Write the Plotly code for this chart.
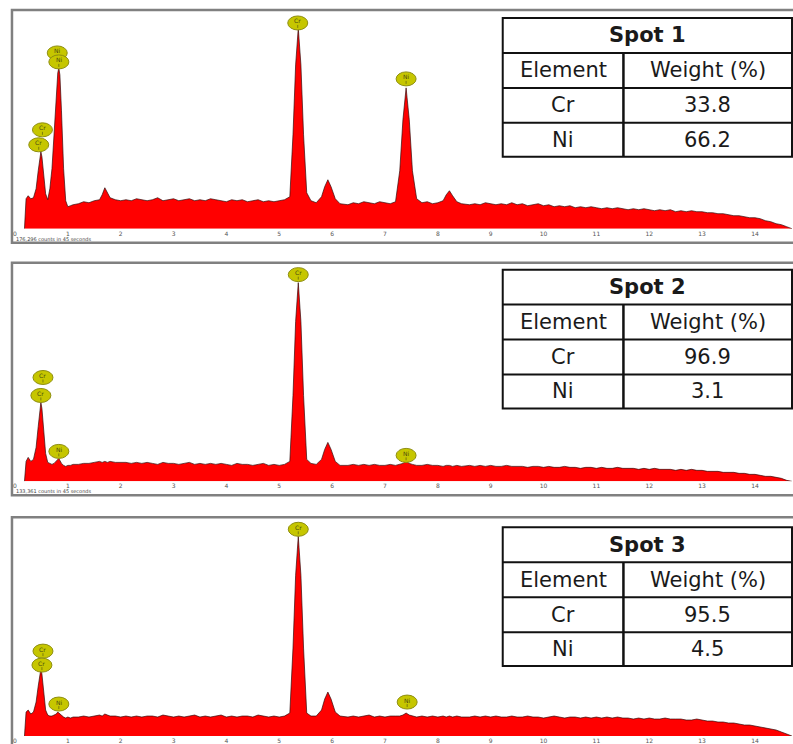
import plotly.graph_objects as go

W, H = 793, 744

# ---------------- data ----------------
energy_keV = [
    0.18, 0.21, 0.25, 0.30, 0.35, 0.40, 0.44, 0.47, 0.49, 0.51, 0.54, 0.58, 0.62,
    0.66, 0.70, 0.74, 0.78, 0.81, 0.83, 0.85, 0.88, 0.92, 0.96, 1.00, 1.05, 1.10,
    1.2, 1.3, 1.4, 1.5, 1.6, 1.65, 1.7, 1.75, 1.8, 1.9, 2.0,
    2.1, 2.2, 2.3, 2.4, 2.5, 2.6, 2.7, 2.8, 2.9, 3.0, 3.1, 3.2, 3.3, 3.4, 3.5, 3.6,
    3.7, 3.8, 3.9, 4.0, 4.1, 4.2, 4.3, 4.4, 4.5, 4.6, 4.7, 4.8, 4.9, 5.0, 5.1,
    5.2, 5.26, 5.31, 5.36, 5.41, 5.46, 5.52, 5.6, 5.7, 5.8, 5.86, 5.92, 5.98, 6.06, 6.15,
    6.3, 6.4, 6.5, 6.6, 6.7, 6.8, 6.9, 7.0, 7.1, 7.2,
    7.28, 7.34, 7.40, 7.46, 7.52, 7.6, 7.7, 7.8, 7.9, 8.0, 8.1, 8.16, 8.22, 8.28, 8.36, 8.45,
    8.6, 8.7, 8.8, 8.9, 9.0, 9.1, 9.2, 9.3, 9.4, 9.5,
    9.6, 9.7, 9.8, 9.9, 10.0, 10.1, 10.2, 10.3, 10.4, 10.5,
    10.6, 10.7, 10.8, 10.9, 11.0, 11.1, 11.2, 11.3, 11.4, 11.5,
    11.6, 11.7, 11.8, 11.9, 12.0, 12.1, 12.2, 12.3, 12.4, 12.5,
    12.6, 12.7, 12.8, 12.9, 13.0, 13.1, 13.2, 13.3, 13.4, 13.5,
    13.6, 13.7, 13.8, 13.9, 14.0, 14.1, 14.2, 14.3, 14.4, 14.5,
    14.6, 14.7,
]

spot1_counts = [
    0, 30, 33, 30, 31, 40, 58, 72, 77, 72, 55, 35, 29, 40, 60, 92, 135, 156, 161, 154, 118, 60, 28, 22, 23, 24,
    25, 27, 26, 28, 29, 34, 41, 36, 31, 29, 28,
    29, 28, 30, 29, 28, 29, 31, 28, 29, 30, 28, 29, 30, 28, 29, 28, 30, 29, 28, 27, 29, 28, 29, 27, 28, 29, 27, 28, 27, 28, 29,
    32, 94, 164, 201, 164, 94, 36, 28, 26, 32, 42, 49, 42, 30, 25,
    24, 26, 25, 27, 26, 25, 27, 26, 25, 27,
    58, 109, 141, 109, 58, 30, 26, 27, 25, 26, 28, 34, 38, 33, 27, 25,
    24, 25, 24, 26, 25, 24, 25, 24, 26, 24,
    25, 23, 24, 25, 23, 24, 22, 23, 22, 23,
    21, 22, 21, 22, 21, 20, 21, 20, 21, 20,
    19, 20, 19, 20, 19, 18, 19, 18, 19, 17,
    18, 17, 18, 17, 17, 16, 16, 15, 15, 14,
    13, 13, 12, 11, 11, 10, 8, 7, 5, 4,
    2, 0,
]

spot2_counts = [
    0, 20, 24, 20, 22, 34, 55, 72, 79, 73, 52, 28, 19, 18, 17, 18, 20, 22, 23, 21, 18, 16, 15, 16, 16, 17,
    17, 18, 18, 19, 20, 19, 20, 19, 20, 19, 19,
    19, 18, 19, 18, 19, 18, 17, 19, 18, 18, 17, 18, 19, 17, 18, 17, 18, 17, 18, 17, 16, 18, 17, 17, 16, 17, 18, 16, 17, 16, 17,
    20, 86, 160, 199, 160, 86, 22, 18, 17, 22, 32, 39, 32, 20, 16,
    16, 17, 16, 17, 16, 17, 16, 16, 17, 16,
    17, 18, 20, 18, 17, 16, 16, 17, 16, 16, 15, 16, 16, 15, 16, 15,
    16, 15, 16, 15, 16, 15, 15, 16, 15, 15,
    15, 14, 15, 15, 14, 15, 14, 14, 15, 14,
    14, 13, 14, 14, 13, 14, 13, 13, 14, 13,
    13, 13, 12, 13, 12, 13, 12, 12, 12, 11,
    12, 11, 12, 11, 11, 10, 10, 10, 9, 9,
    9, 8, 8, 7, 7, 6, 5, 5, 4, 3,
    1, 0,
]

spot3_counts = [
    0, 24, 26, 22, 24, 34, 50, 62, 67, 62, 45, 26, 21, 20, 20, 21, 22, 24, 23, 22, 20, 19, 18, 19, 18, 19,
    19, 20, 19, 20, 21, 20, 22, 21, 20, 20, 19,
    20, 19, 20, 19, 20, 20, 19, 21, 20, 19, 20, 19, 20, 21, 19, 20, 19, 20, 21, 19, 20, 19, 20, 20, 19, 21, 20, 19, 20, 19, 20,
    23, 88, 161, 200, 161, 88, 23, 20, 20, 26, 37, 44, 37, 24, 20,
    19, 20, 19, 20, 21, 19, 20, 19, 20, 20,
    20, 21, 23, 21, 20, 19, 20, 19, 20, 19, 20, 19, 20, 19, 20, 19,
    19, 20, 19, 20, 19, 20, 19, 19, 20, 19,
    19, 20, 19, 19, 18, 19, 20, 19, 18, 19,
    19, 18, 19, 18, 19, 18, 19, 18, 19, 18,
    18, 17, 18, 17, 18, 17, 17, 18, 17, 17,
    17, 16, 16, 17, 16, 15, 15, 14, 14, 13,
    13, 12, 11, 11, 10, 9, 8, 7, 6, 4,
    2, 0,
]

tick_values = [0, 1, 2, 3, 4, 5, 6, 7, 8, 9, 10, 11, 12, 13, 14]
tick_labels = ["0", "1", "2", "3", "4", "5", "6", "7", "8", "9", "10", "11", "12", "13", "14"]

spot_names = ["Spot 1", "Spot 2", "Spot 3"]
elements = ["Cr", "Ni"]
weight_spot1 = [33.8, 66.2]
weight_spot2 = [96.9, 3.1]
weight_spot3 = [95.5, 4.5]
count_notes = ["176,296 counts in 45 seconds", "133,361 counts in 45 seconds", ""]

# peak identification markers (element, energy keV, marker height)
spot1_peak_el = ["Cr", "Cr", "Ni", "Ni", "Cr", "Ni"]
spot1_peak_e = [0.52, 0.45, 0.80, 0.83, 5.35, 7.40]
spot1_peak_y = [99, 84, 176, 167, 206, 150]

spot2_peak_el = ["Cr", "Cr", "Ni", "Cr", "Ni"]
spot2_peak_e = [0.53, 0.49, 0.83, 5.36, 7.40]
spot2_peak_y = [104, 86, 30, 207, 26]

spot3_peak_el = ["Cr", "Cr", "Ni", "Cr", "Ni"]
spot3_peak_e = [0.53, 0.51, 0.83, 5.36, 7.42]
spot3_peak_y = [85, 71, 32, 207, 34]

assert len(energy_keV) == len(spot1_counts) == len(spot2_counts) == len(spot3_counts), (
    len(energy_keV), len(spot1_counts), len(spot2_counts), len(spot3_counts))

# ---------------- layout geometry (pixels) ----------------
panel_top = [10, 263, 518]
panel_bottom = [243, 496, 751]
baseline = [229, 482, 737]
table_top = [18, 270, 528]
x_left_px = 13


def px(x):
    return x / W


def py(y):
    return 1 - y / H


spectra = [spot1_counts, spot2_counts, spot3_counts]
weights = [weight_spot1, weight_spot2, weight_spot3]
peaks = [
    (spot1_peak_el, spot1_peak_e, spot1_peak_y),
    (spot2_peak_el, spot2_peak_e, spot2_peak_y),
    (spot3_peak_el, spot3_peak_e, spot3_peak_y),
]

fig = go.Figure()
shapes = []
annotations = []
layout_axes = {}

for i in range(3):
    n = "" if i == 0 else str(i + 1)
    xname, yname = "x" + n, "y" + n
    fig.add_trace(go.Scatter(
        x=energy_keV, y=spectra[i], mode="lines", fill="tozeroy",
        fillcolor="#ff0000", line=dict(color="rgba(45,10,10,0.85)", width=0.8),
        xaxis=xname, yaxis=yname, showlegend=False, hoverinfo="skip",
    ))
    layout_axes["xaxis" + n] = dict(
        domain=[px(x_left_px), 1], range=[0, 14.72], anchor=yname,
        tickvals=tick_values, ticktext=tick_labels, ticks="",
        tickfont=dict(size=6, color="#555555", family="DejaVu Sans"),
        showgrid=False, zeroline=False, showline=False, fixedrange=True,
    )
    layout_axes["yaxis" + n] = dict(
        domain=[py(baseline[i]), py(panel_top[i])], range=[0, 219],
        anchor=xname, visible=False, fixedrange=True,
    )

    # panel border
    shapes.append(dict(type="rect", xref="paper", yref="paper",
                       x0=px(10), x1=px(805), y0=py(panel_bottom[i]), y1=py(panel_top[i]),
                       line=dict(color="#808080", width=2.5), layer="below"))

    # counts note
    if count_notes[i]:
        annotations.append(dict(x=px(12), y=py(baseline[i] + 10), xref="paper", yref="paper",
                                text=count_notes[i], showarrow=False, xanchor="left",
                                yanchor="middle", font=dict(size=5, color="#444444",
                                                            family="DejaVu Sans")))

    # peak markers
    els, es, ys = peaks[i]
    for el, e, yv in zip(els, es, ys):
        shapes.append(dict(type="circle", xref=xname, yref=yname,
                           xsizemode="pixel", ysizemode="pixel",
                           xanchor=e, yanchor=yv, x0=-10, x1=10, y0=-7, y1=7,
                           fillcolor="#c6c600", line=dict(color="#8e8e10", width=1)))
        shapes.append(dict(type="line", xref=xname, yref=yname,
                           xsizemode="pixel", ysizemode="pixel",
                           xanchor=e, yanchor=yv, x0=0, x1=0, y0=-5, y1=-2,
                           line=dict(color="#6a6a10", width=0.8)))
        annotations.append(dict(x=e, y=yv, xref=xname, yref=yname, text=el,
                                showarrow=False, yshift=2,
                                font=dict(size=6, color="#4a4a10", family="DejaVu Sans")))

    # table
    t = table_top[i]
    rows = [t, t + 35, t + 70, t + 105, t + 139]
    tl, tdiv, tr = 502, 623, 792
    shapes.append(dict(type="rect", xref="paper", yref="paper",
                       x0=px(tl), x1=px(tr), y0=py(rows[4]), y1=py(rows[0]),
                       fillcolor="white", line=dict(color="#111111", width=2)))
    for r in rows[1:4]:
        shapes.append(dict(type="line", xref="paper", yref="paper",
                           x0=px(tl), x1=px(tr), y0=py(r), y1=py(r),
                           line=dict(color="#111111", width=2)))
    shapes.append(dict(type="line", xref="paper", yref="paper",
                       x0=px(tdiv), x1=px(tdiv), y0=py(rows[1]), y1=py(rows[4]),
                       line=dict(color="#111111", width=2.5)))
    c1 = (tl + tdiv) / 2
    c2 = (tdiv + tr) / 2
    cells = [
        ((tl + tr) / 2, (rows[0] + rows[1]) / 2, "<b>" + spot_names[i] + "</b>"),
        (c1, (rows[1] + rows[2]) / 2, "Element"),
        (c2, (rows[1] + rows[2]) / 2, "Weight (%)"),
        (c1, (rows[2] + rows[3]) / 2, elements[0]),
        (c2, (rows[2] + rows[3]) / 2, f"{weights[i][0]:.1f}"),
        (c1, (rows[3] + rows[4]) / 2, elements[1]),
        (c2, (rows[3] + rows[4]) / 2, f"{weights[i][1]:.1f}"),
    ]
    for cx, cy, txt in cells:
        annotations.append(dict(x=px(cx), y=py(cy), xref="paper", yref="paper",
                                text=txt, showarrow=False, xanchor="center",
                                yanchor="middle",
                                font=dict(size=21, color="#1a1a1a", family="DejaVu Sans")))

fig.update_layout(
    width=W, height=H, margin=dict(l=0, r=0, t=0, b=0),
    paper_bgcolor="white", plot_bgcolor="white",
    shapes=shapes, annotations=annotations, showlegend=False,
    **layout_axes,
)

fig.write_html(
    "out.html",
    config={"displayModeBar": False},
    post_script="document.body.style.margin='0px';document.body.style.overflow='hidden';",
)
